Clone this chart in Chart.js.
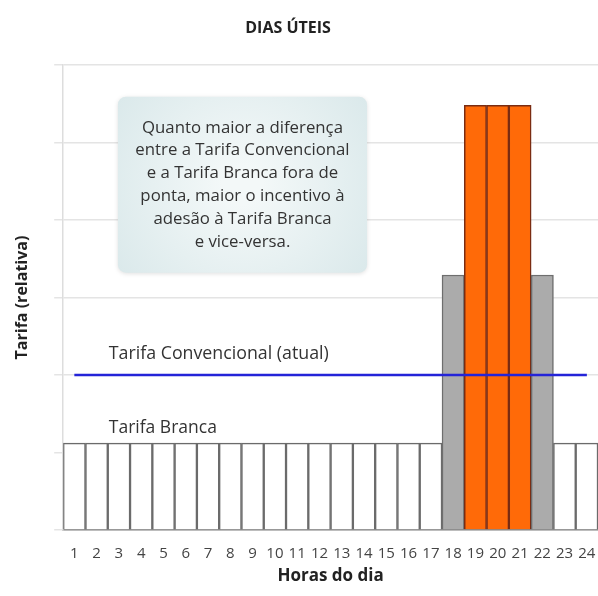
<!DOCTYPE html>
<html>
<head>
<meta charset="utf-8">
<script src="https://cdn.jsdelivr.net/npm/chart.js@4/dist/chart.umd.min.js"></script>
<style>
  body { margin: 0; background: #ffffff; }
</style>
</head>
<body>
<canvas id="tarifaChart" width="598" height="596"></canvas>
<script>
var titulo = "DIAS ÚTEIS";
var horas = ["1","2","3","4","5","6","7","8","9","10","11","12","13","14","15","16","17","18","19","20","21","22","23","24"];
var tarifa_branca = [1.12,1.12,1.12,1.12,1.12,1.12,1.12,1.12,1.12,1.12,1.12,1.12,1.12,1.12,1.12,1.12,1.12,3.29,5.48,5.48,5.48,3.29,1.12,1.12];
var tarifa_convencional = [2,2,2,2,2,2,2,2,2,2,2,2,2,2,2,2,2,2,2,2,2,2,2,2];
// fora de ponta / intermediario / ponta
var periodo = ["f","f","f","f","f","f","f","f","f","f","f","f","f","f","f","f","f","i","p","p","p","i","f","f"];

var caixa_texto = ["Quanto maior a diferença", "entre a Tarifa Convencional", "e a Tarifa Branca fora de", "ponta, maior o incentivo à", "adesão à Tarifa Branca", "e vice-versa."];

var fill_colors = [];
var border_colors = [];
for (var i in periodo) {
  if (periodo[i] == "p") {
    fill_colors.push("#ff6a08");
    border_colors.push("#7a2c12");
  } else if (periodo[i] == "i") {
    fill_colors.push("#ababab");
    border_colors.push("#6e6e6e");
  } else {
    fill_colors.push("#ffffff");
    border_colors.push("#6b6b6b");
  }
}

var notas = {
  id: "notas",
  afterDatasetsDraw: function(chart) {
    var ctx = chart.ctx;
    var xs = chart.scales.x;
    var ys = chart.scales.y;
    var meio = (xs.getPixelForValue(1) - xs.getPixelForValue(0)) / 2;

    // titulo
    ctx.save();
    ctx.fillStyle = "#222222";
    ctx.font = "bold 16px 'Open Sans'";
    ctx.textAlign = "center";
    ctx.textBaseline = "middle";
    ctx.fillText(titulo, xs.getPixelForValue(10) - meio + 2, chart.chartArea.top - 37);
    ctx.restore();

    // caixa de texto
    var bx = xs.getPixelForValue(2) - 1;
    var bx2 = xs.getPixelForValue(13) + 3;
    var by = ys.getPixelForValue(5.59);
    var by2 = ys.getPixelForValue(3.32);
    ctx.save();
    ctx.shadowColor = "rgba(0,0,0,0.12)";
    ctx.shadowBlur = 4;
    ctx.shadowOffsetY = 1;
    var grad = ctx.createRadialGradient((bx + bx2) / 2, (by + by2) / 2, 20, (bx + bx2) / 2, (by + by2) / 2, 160);
    grad.addColorStop(0, "#f3f8f8");
    grad.addColorStop(1, "#d9e8ea");
    ctx.fillStyle = grad;
    ctx.beginPath();
    ctx.roundRect(bx, by, bx2 - bx, by2 - by, 8);
    ctx.fill();
    ctx.restore();

    ctx.save();
    ctx.fillStyle = "#333333";
    ctx.font = "16.8px 'Open Sans'";
    ctx.textAlign = "center";
    ctx.textBaseline = "middle";
    for (var k = 0; k < caixa_texto.length; k++) {
      ctx.fillText(caixa_texto[k], (bx + bx2) / 2, by + 31 + k * 22.8);
    }

    // rotulos das tarifas
    ctx.textAlign = "left";
    ctx.font = "17.8px 'Open Sans'";
    ctx.fillText("Tarifa Convencional (atual)", xs.getPixelForValue(2) - meio + 1, ys.getPixelForValue(tarifa_convencional[0]) - 21);
    ctx.font = "17.5px 'Open Sans'";
    ctx.fillText("Tarifa Branca", xs.getPixelForValue(2) - meio + 1, ys.getPixelForValue(tarifa_branca[0]) - 15);
    ctx.restore();
  }
};

var ctx = document.getElementById("tarifaChart");
var myChart = new Chart(ctx, {
  data: {
    labels: horas,
    datasets: [
      {
        type: "line",
        data: tarifa_convencional,
        borderColor: "#2424d8",
        borderWidth: 2.5,
        pointRadius: 0,
        order: 0
      },
      {
        type: "bar",
        data: tarifa_branca,
        backgroundColor: fill_colors,
        borderColor: border_colors,
        borderWidth: 1.5,
        barPercentage: 1,
        categoryPercentage: 1,
        order: 1
      }
    ]
  },
  options: {
    responsive: false,
    animation: false,
    layout: { padding: { left: 11, right: -4, top: 65, bottom: 0 } },
    plugins: {
      legend: { display: false },
      tooltip: { enabled: false },
      title: { display: false }
    },
    scales: {
      x: {
        grid: { display: false, drawTicks: false },
        border: { display: true, color: "#8a8a8a", width: 1.5 },
        ticks: {
          color: "#444444",
          padding: 15,
          maxRotation: 0,
          autoSkip: false,
          font: { family: "'Open Sans'", size: 15 }
        },
        title: {
          display: true,
          text: "Horas do dia",
          color: "#222222",
          font: { family: "'Open Sans'", size: 17, weight: "bold" },
          padding: { top: 4, bottom: 10 }
        },
        afterFit: function(s) {
          s.height = 66;
          s.paddingLeft = 0;
          s.paddingRight = 0;
        }
      },
      y: {
        min: 0,
        max: 6,
        ticks: { display: false, stepSize: 1 },
        grid: { color: "#e4e4e4", lineWidth: 1.5, drawTicks: true, tickLength: 9, tickColor: "#e4e4e4" },
        border: { display: true, color: "#dddddd", width: 1.5 },
        title: {
          display: true,
          text: "Tarifa (relativa)",
          color: "#222222",
          font: { family: "'Open Sans'", size: 16, weight: "bold" },
          padding: { top: 2, bottom: 22 }
        }
      }
    }
  },
  plugins: [notas]
});
</script>
</body>
</html>
